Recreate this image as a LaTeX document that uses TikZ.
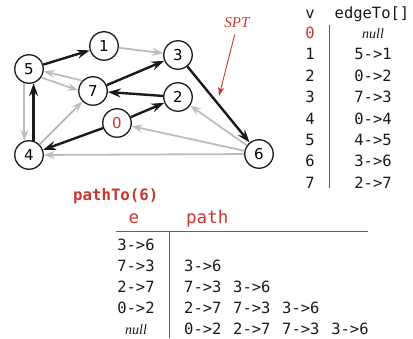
\documentclass[tikz,border=0pt]{standalone}
\usepackage{fontspec}
\setmonofont{DejaVu Sans Mono}
\newfontfamily\digitfont{DejaVu Sans}
\newfontfamily\notefont{Liberation Serif}
\usetikzlibrary{arrows.meta, positioning}
\definecolor{ink}{HTML}{1A1A1A}
\definecolor{edgegray}{HTML}{BDBDBD}
\definecolor{accent}{HTML}{C8372D}
\newcommand{\tokgap}{\hspace{11.7pt}}
\tikzset{
  vertex/.style   ={circle, draw=ink, line width=1.3pt, fill=white,
                    minimum size=28.5pt, inner sep=0pt,
                    font=\digitfont\fontsize{15}{15}\selectfont},
  treeedge/.style ={-{Stealth[length=13pt,width=9pt,inset=4.5pt]},
                    line width=2.4pt, draw=ink},
  graphedge/.style={-{Stealth[length=11pt,width=8pt,inset=4pt]},
                    line width=1.8pt, draw=edgegray},
  tablecell/.style={font=\ttfamily\fontsize{15.5}{16}\selectfont, text=ink,
                    inner sep=0pt, text height=11pt, text depth=0pt},
  colhead/.style  ={tablecell, font=\ttfamily\fontsize{17.5}{18}\selectfont,
                    text=accent, text height=12pt},
  nullcell/.style ={tablecell, font=\notefont\itshape\fontsize{14}{14}\selectfont},
  redrule/.style  ={draw=accent, line width=1pt}
}

\begin{document}
\begin{tikzpicture}[x=1pt, y=-1pt]
  \useasboundingbox (0,0) rectangle (413,339);

  % digraph and its shortest-paths tree
  \node[vertex]              (v5) at (29,69)   {5};
  \node[vertex]              (v1) at (104,46)  {1};
  \node[vertex]              (v3) at (178,55)  {3};
  \node[vertex]              (v7) at (93,91)   {7};
  \node[vertex]              (v2) at (178,97)  {2};
  \node[vertex, text=accent] (v0) at (117,123) {0};
  \node[vertex]              (v4) at (29,155)  {4};
  \node[vertex]              (v6) at (259,154) {6};

  \draw[graphedge] (v1) -- (v3);
  \draw[graphedge] (v7.136) -- (v5.-9);
  \draw[graphedge] (v5.-35) -- (v7.177);
  \draw[graphedge] (v5.-108) -- (v4.108);
  \draw[graphedge] (v4) -- (v7);
  \draw[graphedge] (v6) -- (v2);
  \draw[graphedge] (v6) -- (v0);
  \draw[graphedge] (v6) -- (v4);

  \draw[treeedge] (v5) -- (v1);
  \draw[treeedge] (v7) -- (v3);
  \draw[treeedge] (v2) -- (v7);
  \draw[treeedge] (v0) -- (v2);
  \draw[treeedge] (v0) -- (v4);
  \draw[treeedge] (v4.72) -- (v5.-72);
  \draw[treeedge] (v3) -- (v6);

  \node[font=\notefont\itshape\fontsize{15}{15}\selectfont, text=accent] (spt) at (237,23) {SPT};
  \coordinate (spttip) at (219,96);
  \draw[-{Stealth[length=9pt,width=6pt,inset=2.5pt]}, draw=accent, line width=0.9pt,
        shorten <=3pt] (spt.-100) -- (spttip);

  % edgeTo[] array
  \node[tablecell] (vhead) at (310,13) {v};
  \node[tablecell] (ehead) at (372,13) {edgeTo[]};
  \node[tablecell, text=accent] (t0) at (310,33) {0};
  \node[nullcell]               (e0) at (373,33) {null};
  \foreach \v/\e in {1/5->1, 2/0->2, 3/7->3, 4/0->4, 5/4->5, 6/3->6, 7/2->7} {
    \node[tablecell] (t\v) at ({310}, {33+21.4*\v}) {\v};
    \node[tablecell] (e\v) at ({373}, {33+21.4*\v}) {\e};
  }
  \draw[redrule] (329,25) -- (329,188);

  % pathTo(6) trace
  \node[tablecell, anchor=west, text=accent, text height=11pt,
        font=\ttfamily\bfseries\fontsize{15.7}{16}\selectfont] (pathto) at (73,195) {pathTo(6)};
  \node[colhead]              (ehd) at (134,218) {e};
  \node[colhead, anchor=west] (phd) at (186,218) {path};
  \draw[redrule] (116,232) -- (368,232);
  \draw[redrule] (169,232) -- (169,338);

  \node[tablecell] (s0) at (136,245) {3->6};
  \node[tablecell] (s1) at (136,266) {7->3};
  \node[tablecell] (s2) at (136,287) {2->7};
  \node[tablecell] (s3) at (136,308) {0->2};
  \node[nullcell]  (s4) at (136,329) {null};

  \node[tablecell, anchor=west] (p1) at (184,266) {3->6};
  \node[tablecell, anchor=west] (p2) at (184,287) {7->3\tokgap 3->6};
  \node[tablecell, anchor=west] (p3) at (184,308) {2->7\tokgap 7->3\tokgap 3->6};
  \node[tablecell, anchor=west] (p4) at (184,329) {0->2\tokgap 2->7\tokgap 7->3\tokgap 3->6};
\end{tikzpicture}
\end{document}
